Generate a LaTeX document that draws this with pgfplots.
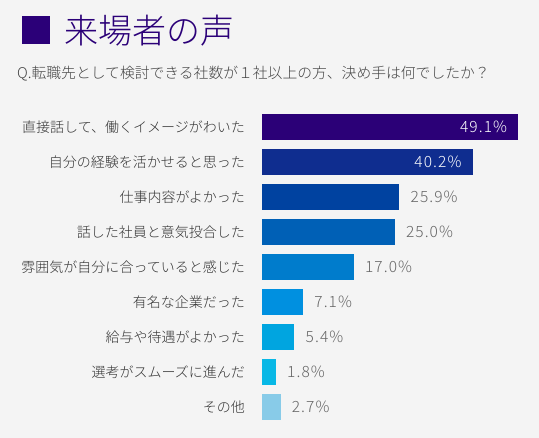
\documentclass[border=0pt]{standalone}
\usepackage{pgfplots}
\pgfplotsset{compat=1.18}
\usepackage{fontspec}
\setmainfont{Noto Sans CJK JP Light}
\newfontfamily\numfont{Noto Sans CJK JP Light}[LetterSpace=7]
\definecolor{bg}{HTML}{F4F4F4}
\definecolor{titlec}{HTML}{2B0078}
\definecolor{subc}{HTML}{444444}
\definecolor{labc}{HTML}{333333}
\definecolor{valc}{HTML}{666666}
\definecolor{c1}{HTML}{2B0077}
\definecolor{c2}{HTML}{0F2D8F}
\definecolor{c3}{HTML}{0042A0}
\definecolor{c4}{HTML}{0060B6}
\definecolor{c5}{HTML}{007CCC}
\definecolor{c6}{HTML}{0090E0}
\definecolor{c7}{HTML}{00A5E0}
\definecolor{c8}{HTML}{08B8E6}
\definecolor{c9}{HTML}{88CBE8}
\begin{document}
\begin{tikzpicture}[x=1bp,y=1bp]
\fill[bg] (0,0) rectangle (539,438);
\fill[titlec] (22,422) rectangle (50,393.5);
\node[anchor=west, text=titlec, font=\fontsize{34bp}{38bp}\selectfont, inner sep=0] at (64,407) {来場者の声};
\node[anchor=west, text=subc, font=\fontsize{14.8bp}{16bp}\selectfont, inner sep=0] at (17,364) {Q.転職先として検討できる社数が１社以上の方、決め手は何でしたか？};
\begin{axis}[
  at={(262bp,13.5bp)}, anchor=south west,
  scale only axis, width=270bp, height=315bp,
  xmin=0, xmax=52.73, ymin=-0.5, ymax=8.5,
  y dir=reverse,
  xbar, bar width=26bp, bar shift=0pt,
  axis line style={draw=none},
  xtick=\empty,
  ytick={0,...,8},
  yticklabels={直接話して、働くイメージがわいた,自分の経験を活かせると思った,仕事内容がよかった,話した社員と意気投合した,雰囲気が自分に合っていると感じた,有名な企業だった,給与や待遇がよかった,選考がスムーズに進んだ,その他},
  major tick length=0pt,
  y tick label style={anchor=east, inner sep=0pt, xshift=-17bp, font=\fontsize{14bp}{16bp}\selectfont, text=labc},
  x filter/.expression={x+0.94},
  point meta=rawx,
  nodes near coords={\pgfmathprintnumber[assume math mode=true,fixed,fixed zerofill,precision=1]{\pgfplotspointmeta}\%},
  every node near coord/.append style={font=\numfont\fontsize{15.5bp}{17bp}\selectfont, inner sep=0pt},
  inlab/.style={every node near coord/.append style={anchor=east, xshift=-11bp, text=white}},
  outlab/.style={every node near coord/.append style={anchor=west, xshift=11bp, text=valc}},
  clip=false,
]
\addplot[fill=c1, draw=none, inlab] coordinates {(49.1,0)};
\addplot[fill=c2, draw=none, inlab] coordinates {(40.2,1)};
\addplot[fill=c3, draw=none, outlab] coordinates {(25.9,2)};
\addplot[fill=c4, draw=none, outlab] coordinates {(25.0,3)};
\addplot[fill=c5, draw=none, outlab] coordinates {(17.0,4)};
\addplot[fill=c6, draw=none, outlab] coordinates {(7.1,5)};
\addplot[fill=c7, draw=none, outlab] coordinates {(5.4,6)};
\addplot[fill=c8, draw=none, outlab] coordinates {(1.8,7)};
\addplot[fill=c9, draw=none, outlab] coordinates {(2.7,8)};
\end{axis}
\end{tikzpicture}
\end{document}
